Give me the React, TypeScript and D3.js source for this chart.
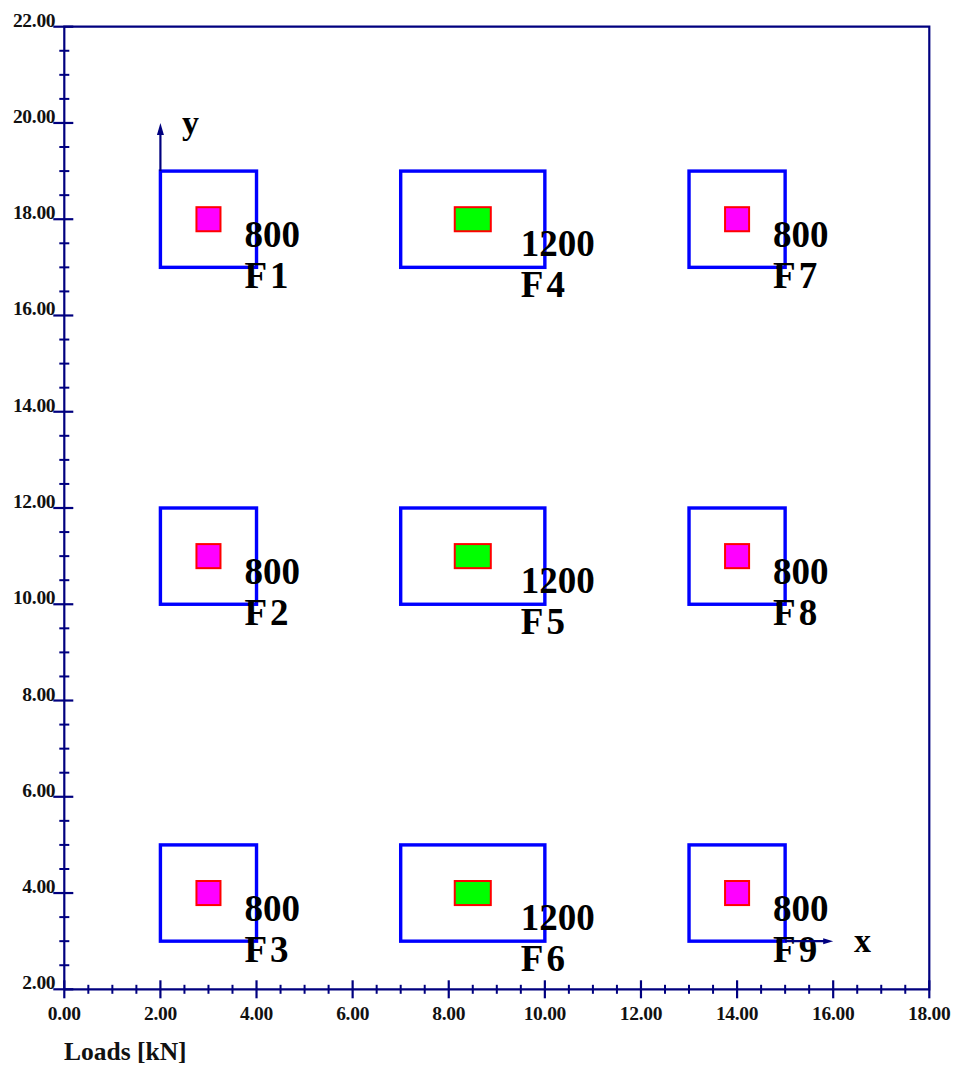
import React from 'react';
import * as d3 from 'd3';

// footing layout data (plan coordinates, m)
const footingNames = ['F1', 'F2', 'F3', 'F4', 'F5', 'F6', 'F7', 'F8', 'F9'];
const footingCx = [3, 3, 3, 8.5, 8.5, 8.5, 14, 14, 14];
const footingCy = [18, 11, 4, 18, 11, 4, 18, 11, 4];
const footingW = [2, 2, 2, 3, 3, 3, 2, 2, 2];
const footingH = [2, 2, 2, 2, 2, 2, 2, 2, 2];
const columnW = [0.5, 0.5, 0.5, 0.75, 0.75, 0.75, 0.5, 0.5, 0.5];
const columnH = [0.5, 0.5, 0.5, 0.5, 0.5, 0.5, 0.5, 0.5, 0.5];
const loads = [800, 800, 800, 1200, 1200, 1200, 800, 800, 800];

const xMajorTicks = [0, 2, 4, 6, 8, 10, 12, 14, 16, 18];
const yMajorTicks = [2, 4, 6, 8, 10, 12, 14, 16, 18, 20, 22];
const tickLabels = (v: number) => v.toFixed(2);

const WIDTH = 955;
const HEIGHT = 1066;
const NAVY = '#00007f';
const FONT = '"Liberation Serif", "Times New Roman", serif';

export default function App() {
  const xScale = d3.scaleLinear().domain([0, 18]).range([64.3, 929.3]);
  const yScale = d3.scaleLinear().domain([2, 22]).range([989.3, 26.7]);

  const xMinor = d3.range(0, 18.01, 0.5).filter((v) => v % 2 !== 0);
  const yMinor = d3.range(2, 22.01, 0.5).filter((v) => v % 2 !== 0);

  const x0 = xScale(0);
  const x1 = xScale(18);
  const y0 = yScale(2);
  const y1 = yScale(22);

  return (
    <svg
      width={WIDTH}
      height={HEIGHT}
      style={{ position: 'absolute', left: 0, top: 0, background: '#fff' }}
      fontFamily={FONT}
      fontWeight="bold"
    >
      {/* frame */}
      <path
        d={`M${x0},${y0}L${x0},${y1}L${x1},${y1}L${x1},${y0}L${x0},${y0}`}
        fill="none"
        stroke={NAVY}
        strokeWidth={2.2}
      />

      {/* left axis ticks */}
      {yMinor.map((v) => (
        <line key={'ym' + v} x1={x0 - 5} x2={x0 + 5} y1={yScale(v)} y2={yScale(v)} stroke={NAVY} strokeWidth={2} />
      ))}
      {yMajorTicks.map((v) => (
        <g key={'yM' + v}>
          <line x1={x0 - 11} x2={x0 + 9} y1={yScale(v)} y2={yScale(v)} stroke={NAVY} strokeWidth={2.2} />
          <text x={x0 - 9} y={yScale(v)} textAnchor="end" fontSize={19.5} letterSpacing={-0.3} fill="#111">
            {tickLabels(v)}
          </text>
        </g>
      ))}

      {/* bottom axis ticks */}
      {xMinor.map((v) => (
        <line key={'xm' + v} x1={xScale(v)} x2={xScale(v)} y1={y0 - 4.5} y2={y0 + 4.5} stroke={NAVY} strokeWidth={2} />
      ))}
      {xMajorTicks.map((v) => (
        <g key={'xM' + v}>
          <line x1={xScale(v)} x2={xScale(v)} y1={y0 - 9} y2={y0 + 9} stroke={NAVY} strokeWidth={2.2} />
          <text x={xScale(v)} y={1020} textAnchor="middle" fontSize={19.5} letterSpacing={-0.3} fill="#111">
            {tickLabels(v)}
          </text>
        </g>
      ))}

      <text x={64} y={1060} fontSize={25.5} fill="#111">
        Loads [kN]
      </text>

      {/* footings */}
      {footingNames.map((name, i) => {
        const fx = xScale(footingCx[i] - footingW[i] / 2);
        const fy = yScale(footingCy[i] + footingH[i] / 2);
        const fw = xScale(footingCx[i] + footingW[i] / 2) - fx;
        const fh = yScale(footingCy[i] - footingH[i] / 2) - fy;
        const cx = xScale(footingCx[i] - columnW[i] / 2);
        const cy = yScale(footingCy[i] + columnH[i] / 2);
        const cw = xScale(footingCx[i] + columnW[i] / 2) - cx;
        const ch = yScale(footingCy[i] - columnH[i] / 2) - cy;
        // labels sit right/below the column, wider columns push it further
        const lx = xScale(footingCx[i] + columnW[i] + 0.25);
        const ly = yScale(footingCy[i] - (0.2 + 0.76 * columnW[i]));
        return (
          <g key={name}>
            <rect x={fx} y={fy} width={fw} height={fh} fill="none" stroke="#0000ff" strokeWidth={3.4} />
            <rect
              x={cx}
              y={cy}
              width={cw}
              height={ch}
              fill={loads[i] > 1000 ? '#00ff00' : '#ff00ff'}
              stroke="#ff0000"
              strokeWidth={2}
            />
            <text x={lx} y={ly} fontSize={37} fill="#000">
              {loads[i]}
            </text>
            <text x={lx} y={ly + 41} fontSize={37} letterSpacing={3} fill="#000">
              {name}
            </text>
          </g>
        );
      })}

      {/* local axes arrows */}
      <line x1={xScale(2)} x2={xScale(2)} y1={yScale(19)} y2={yScale(20) + 8} stroke={NAVY} strokeWidth={2.2} />
      <path
        d={`M${xScale(2)},${yScale(20)}L${xScale(2) - 3.5},${yScale(20) + 12}L${xScale(2) + 3.5},${yScale(20) + 12}Z`}
        fill={NAVY}
      />
      <text x={182} y={134} fontSize={34} fill="#000">
        y
      </text>

      <line x1={xScale(15)} x2={xScale(16) - 8} y1={yScale(3)} y2={yScale(3)} stroke={NAVY} strokeWidth={2.2} />
      <path
        d={`M${xScale(16)},${yScale(3)}L${xScale(16) - 10},${yScale(3) - 3}L${xScale(16) - 10},${yScale(3) + 3}Z`}
        fill={NAVY}
      />
      <text x={854} y={952} fontSize={34} fill="#000">
        x
      </text>
    </svg>
  );
}
